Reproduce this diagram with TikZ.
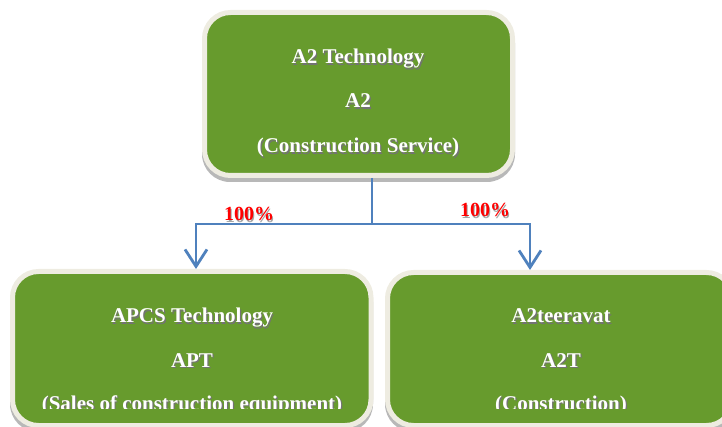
\documentclass[tikz,border=0pt]{standalone}
\usepackage{fontspec}
\setmainfont{Liberation Serif}
\usetikzlibrary{arrows.meta}
\definecolor{boxgreen}{HTML}{679B2D}
\definecolor{cream}{HTML}{EEECE1}
\definecolor{linkblue}{HTML}{4F81BD}
\definecolor{shadowgray}{HTML}{B8B8B8}
\tikzset{
  orgbox/.style={draw=cream, line width=5pt, fill=boxgreen, rounded corners=26pt, inner sep=0pt},
  boxshadow/.style={fill=shadowgray, rounded corners=28pt},
  lbl/.style={text=white, font=\bfseries\fontsize{21}{25}\selectfont, inner sep=0pt, anchor=base},
  lblshadow/.style={text=black!55, font=\bfseries\fontsize{21}{25}\selectfont, inner sep=0pt, anchor=base},
  pct/.style={text=red, font=\bfseries\fontsize{20}{24}\selectfont, inner sep=0pt, anchor=base},
  pctshadow/.style={text=black!35, font=\bfseries\fontsize{20}{24}\selectfont, inner sep=0pt, anchor=base},
  link/.style={draw=linkblue, line width=2.8pt},
  linkarrow/.style={link, -{Straight Barb[length=17pt,width=22pt]}},
}
\newcommand{\sline}[5]{%
  \node[#5shadow] (#1s) at (#2+1.2,#3+1.2) {#4};
  \node[#5] (#1) at (#2,#3) {#4};}
\begin{document}
\begin{tikzpicture}[x=1pt,y=-1pt]
\useasboundingbox (0,0) rectangle (722,427);
% shadows of boxes
\fill[boxshadow] (202,15) rectangle (515,182);
\fill[boxshadow] (10,274) rectangle (373,432);
\fill[boxshadow] (385,275) rectangle (760,432);
% boxes
\node[orgbox, minimum width=308pt, minimum height=163pt] (a2) at (358.5,94) {};
\node[orgbox, minimum width=358.5pt, minimum height=154pt] (apt) at (191.75,348.5) {};
\node[orgbox, minimum width=345pt, minimum height=153pt] (a2t) at (560,349) {};
% top texts
\sline{a2a}{358}{64}{A2 Technology}{lbl}
\sline{a2b}{358}{108}{A2}{lbl}
\sline{a2c}{358}{153}{(Construction Service)}{lbl}
% bottom texts
\sline{apta}{192}{323}{APCS Technology}{lbl}
\sline{aptb}{192}{367}{APT}{lbl}
\sline{a2ta}{561}{323}{A2teeravat}{lbl}
\sline{a2tb}{561}{367}{A2T}{lbl}
\begin{scope}
\clip (0,0) rectangle (722,408);
\sline{aptc}{192}{410}{(Sales of construction equipment)}{lbl}
\sline{a2tc}{561}{410}{(Construction)}{lbl}
\end{scope}
% connectors
\coordinate (j) at (372,224);
\coordinate (ltap) at (196,224);
\coordinate (rtap) at (530,224);
\draw[link] (a2.south -| j) -- (j);
\draw[linkarrow] (j) -- (ltap) -- (apt.north -| ltap);
\draw[linkarrow] (j) -- (rtap) -- (a2t.north -| rtap);
% percentages
\sline{pl}{249}{221}{100\%}{pct}
\sline{pr}{485}{217}{100\%}{pct}
\end{tikzpicture}
\end{document}
